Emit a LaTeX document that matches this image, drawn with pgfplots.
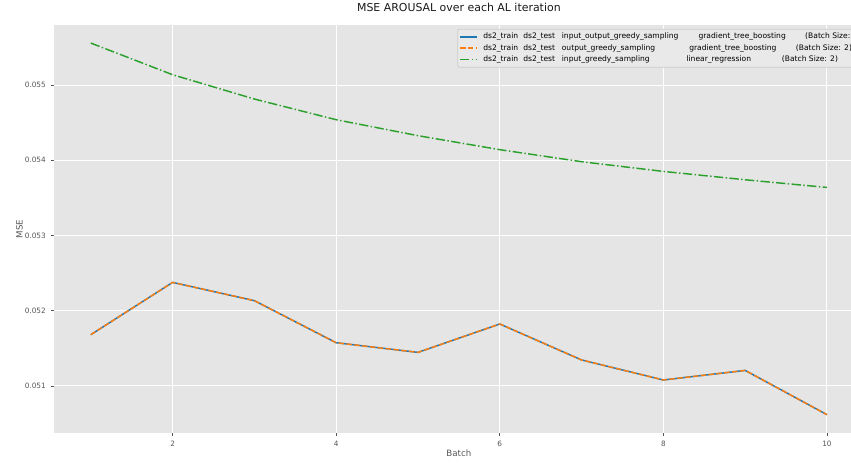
\documentclass[border=0pt]{standalone}
\usepackage{pgfplots}
\pgfplotsset{compat=1.18}
\usepackage{fontspec}
\setmainfont{DejaVu Sans}
\definecolor{bgc}{HTML}{E5E5E5}
\definecolor{tickc}{HTML}{555555}
\definecolor{c0}{HTML}{1F77B4}
\definecolor{c1}{HTML}{FF7F0E}
\definecolor{c2}{HTML}{2CA02C}
\definecolor{legbg}{HTML}{E9E9E9}
\definecolor{legedge}{HTML}{CCCCCC}
\begin{document}
\begin{tikzpicture}
\path[use as bounding box] (-40.5pt,-24.75pt) rectangle (597.75pt,324.75pt);
\clip (-40.5pt,-24.75pt) rectangle (597.75pt,324.75pt);
\begin{axis}[
  name=ax,
  at={(0,0)}, anchor=south west,
  scale only axis, width=607.35pt, height=306.2pt,
  xmin=0.55, xmax=10.45, ymin=0.0503754, ymax=0.0558017,
  axis background/.style={fill=bgc},
  axis line style={draw=none},
  grid=major, major grid style={white, line width=0.75pt},
  xtick={2,4,6,8,10},
  ytick={0.051,0.052,0.053,0.054,0.055},
  xtick pos=lower, ytick pos=left,
  tick align=outside, major tick length=2.6pt,
  tick style={tickc, line width=0.6pt},
  /pgf/number format/assume math mode=true,
  scaled y ticks=false,
  yticklabel style={/pgf/number format/fixed, /pgf/number format/fixed zerofill, /pgf/number format/precision=3},
  ticklabel style={font=\fontsize{5.5}{6}\selectfont, text=tickc},
  title={MSE AROUSAL over each AL iteration},
  title style={at={(axis description cs:0.5,1)}, anchor=base, yshift=4pt, font=\fontsize{8.2}{9}\selectfont, text=black!90},
  xlabel={Batch},
  xlabel style={at={(axis description cs:0.5,0)}, anchor=base, yshift=-17.4pt, font=\fontsize{6.5}{7}\selectfont, text=tickc},
  legend cell align=left,
  legend image code/.code={\draw[#1] (-1pt,0pt) -- (11.5pt,0pt);},
  legend style={at={(axis description cs:0.498,0.990)}, anchor=north west,
    fill=legbg, draw=legedge, line width=0.6pt, rounded corners=1.5pt,
    font=\fontsize{5.67}{6}\selectfont, text=black,
    nodes={inner sep=0pt, text height=4.2pt, text depth=1.2pt},
    row sep=3.15pt, column sep=4.3pt, inner xsep=1.3pt, inner ysep=3pt},
]
\addplot[c0, line width=1.1pt] coordinates {(1,0.051682) (2,0.052377) (3,0.052134) (4,0.051575) (5,0.051447) (6,0.051824) (7,0.051346) (8,0.05108) (9,0.051207) (10,0.050619)};
\addlegendentry{\makebox[30pt][l]{ds2\_train}\makebox[28.95pt][l]{ds2\_test}\makebox[102.5pt][l]{input\_output\_greedy\_sampling}\makebox[80pt][l]{gradient\_tree\_boosting}(Batch Size: 2)}
\addplot[c1, line width=1.1pt, dash pattern=on 4.1pt off 1.8pt] coordinates {(1,0.051682) (2,0.052377) (3,0.052134) (4,0.051575) (5,0.051447) (6,0.051824) (7,0.051346) (8,0.05108) (9,0.051207) (10,0.050619)};
\addlegendentry{\makebox[30pt][l]{ds2\_train}\makebox[28.95pt][l]{ds2\_test}\makebox[95.55pt][l]{output\_greedy\_sampling}\makebox[79.95pt][l]{gradient\_tree\_boosting}(Batch Size: 2)}
\addplot[c2, line width=1.1pt, dash pattern=on 7pt off 1.8pt on 1.1pt off 1.8pt] coordinates {(1,0.055558) (2,0.055137) (3,0.054814) (4,0.054539) (5,0.054327) (6,0.054141) (7,0.053981) (8,0.053852) (9,0.053741) (10,0.053639)};
\addlegendentry{\makebox[30pt][l]{ds2\_train}\makebox[28.95pt][l]{ds2\_test}\makebox[93.5pt][l]{input\_greedy\_sampling}\makebox[71.5pt][l]{linear\_regression}(Batch Size: 2)}
\end{axis}
\node[rotate=90, anchor=base, inner sep=0pt, font=\fontsize{6.5}{7}\selectfont, text=tickc] at ([xshift=-23.5pt]ax.west) {MSE};
\end{tikzpicture}
\end{document}
